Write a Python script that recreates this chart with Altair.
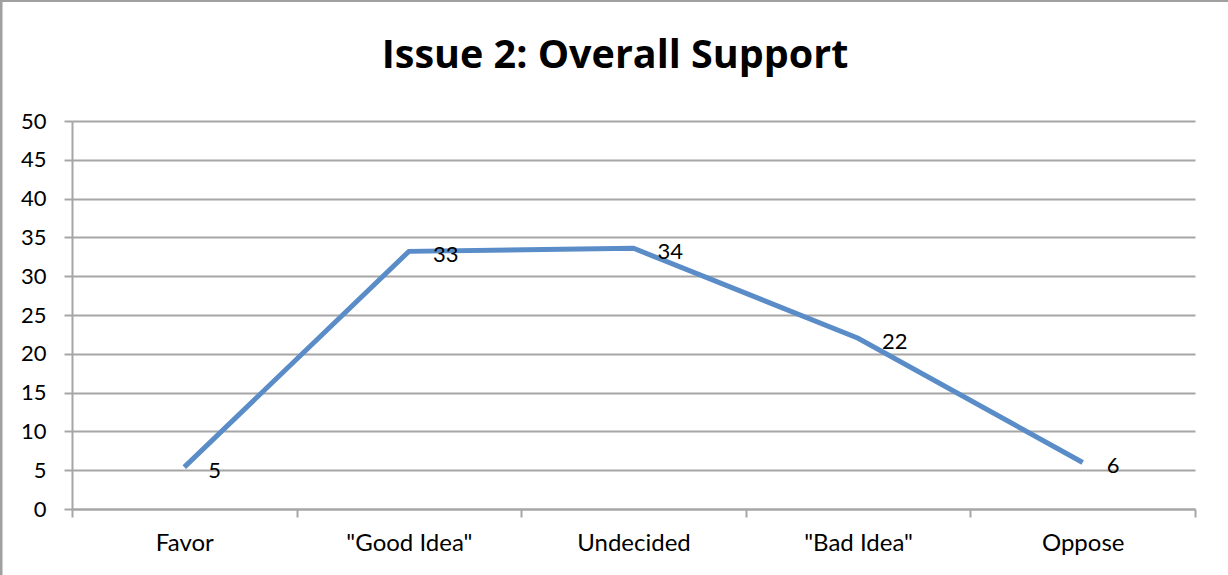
import altair as alt
import pandas as pd

categories = ['Favor', '"Good Idea"', 'Undecided', '"Bad Idea"', 'Oppose']
values = [5.4, 33.2, 33.6, 22.0, 6.0]
y_ticks = [0, 5, 10, 15, 20, 25, 30, 35, 40, 45, 50]
title_text = "Issue 2: Overall Support"

df = pd.DataFrame({"cat": categories, "v": values})

FONT = "Lato"
GRID = "#A6A6A6"
LINE = "#5A8CC8"

x_enc = alt.X(
    "cat:N",
    sort=categories,
    scale=alt.Scale(type="band", paddingInner=0, paddingOuter=0),
    bandPosition=0.5,
    axis=alt.Axis(
        title=None, labelAngle=0, tickBand="extent", grid=False,
        labelFont=FONT, labelFontSize=24, labelColor="black",
        tickSize=8, tickColor=GRID, tickWidth=2,
        domainColor=GRID, domainWidth=2, labelPadding=14,
    ),
)
y_enc = alt.Y(
    "v:Q",
    scale=alt.Scale(domain=[0, 50], nice=False),
    axis=alt.Axis(
        title=None, values=y_ticks, labelFont=FONT, labelFontSize=22,
        labelColor="black", tickSize=8, tickColor=GRID, tickWidth=2,
        gridColor=GRID, gridWidth=2, domainColor=GRID, domainWidth=2,
        labelPadding=18,
    ),
)

base = alt.Chart(df)
line = base.mark_line(color=LINE, strokeWidth=5).encode(x=x_enc, y=y_enc)
labels = base.mark_text(
    align="left", baseline="middle", dx=24, dy=4, font=FONT, fontSize=22, color="black"
).encode(x=x_enc, y=y_enc, text=alt.Text("v:Q", format=".0f"))

frame_df = pd.DataFrame({"k": [0], "t": [title_text]})
left_border = alt.Chart(frame_df).mark_rule(color="#A0A0A0", strokeWidth=3, clip=False).encode(
    x=alt.value(-71), y=alt.value(-121), y2=alt.value(454)
)
top_border = alt.Chart(frame_df).mark_rule(color="#A0A0A0", strokeWidth=2, clip=False).encode(
    x=alt.value(-72), x2=alt.value(1156), y=alt.value(-120)
)
title = alt.Chart(frame_df).mark_text(
    font="Open Sans", fontSize=39.5, fontWeight="bold", color="black",
    align="center", baseline="alphabetic", clip=False,
).encode(x=alt.value(543), y=alt.value(-53), text="t:N")

chart = alt.layer(line, labels, left_border, top_border, title).properties(
    width=1123,
    height=388,
    padding={"left": 72, "top": 121, "right": 33, "bottom": 66},
    autosize=alt.AutoSizeParams(type="none"),
    background="white",
).configure_view(stroke=None)

chart.save("out.html", embed_options={"renderer": "svg", "actions": False})
